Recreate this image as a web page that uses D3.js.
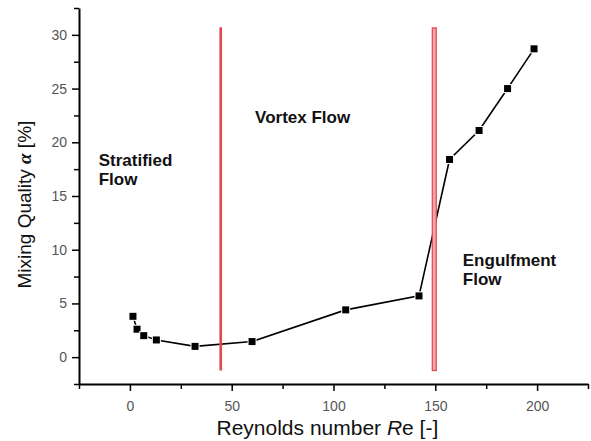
<!DOCTYPE html>
<html>
<head>
<meta charset="utf-8">
<script src="https://cdnjs.cloudflare.com/ajax/libs/d3/7.8.5/d3.min.js"></script>
<style>
  body { margin: 0; background: #fff; }
  svg { display: block; font-family: "Liberation Sans", Arial, sans-serif; }
  .axis path, .axis line { stroke: #000; }
  .axis text { fill: #555; font-size: 14px; }
  .regime { font-weight: bold; font-size: 17px; fill: #111; }
</style>
</head>
<body>
<div id="chart"></div>
<script>
// Reynolds number vs mixing quality
var reValues = [1.5, 3.5, 6.8, 13, 32, 60, 106, 142, 157, 171.5, 185.5, 198.5];
var alphaValues = [3.8, 2.6, 2.0, 1.6, 1.0, 1.45, 4.4, 5.7, 18.4, 21.1, 25.0, 28.7];
// regime borders
var borderRe = [44.6, 149.5];
var xTicks = [0, 50, 100, 150, 200];
var yTicks = [0, 5, 10, 15, 20, 25, 30];
var regimeLabels = [["Stratified", "Flow"], ["Vortex Flow"], ["Engulfment", "Flow"]];

var width = 591, height = 441;
var plotLeft = 79, plotRight = 588, plotTop = 8, plotBottom = 384;

var svg = d3.select("#chart").append("svg")
  .attr("width", width)
  .attr("height", height);

var x = d3.scaleLinear().domain([-25, 225]).range([plotLeft, plotRight]);
var y = d3.scaleLinear().domain([-2.5, 32.5]).range([plotBottom, plotTop]);

// minor ticks first
svg.append("g")
  .attr("class", "axis")
  .attr("transform", "translate(0," + plotBottom + ")")
  .call(d3.axisBottom(x).tickValues([-25, 25, 75, 125, 175, 225]).tickSize(5).tickFormat(""))
  .call(function(g) { g.select(".domain").remove(); g.selectAll("line").attr("stroke-width", 1.5); });

svg.append("g")
  .attr("class", "axis")
  .attr("transform", "translate(" + plotLeft + ",0)")
  .call(d3.axisLeft(y).tickValues([-2.5, 2.5, 7.5, 12.5, 17.5, 22.5, 27.5, 32.5]).tickSize(5).tickFormat(""))
  .call(function(g) { g.select(".domain").remove(); g.selectAll("line").attr("stroke-width", 1.5); });

// major axes
svg.append("g")
  .attr("class", "axis")
  .attr("transform", "translate(0," + plotBottom + ")")
  .call(d3.axisBottom(x).tickValues(xTicks).tickSize(7).tickPadding(10).tickSizeOuter(0))
  .call(function(g) {
    g.select(".domain").attr("stroke-width", 2);
    g.selectAll("line").attr("stroke-width", 1.5);
    g.selectAll("text").attr("font-size", 14).attr("font-family", null);
  });

svg.append("g")
  .attr("class", "axis")
  .attr("transform", "translate(" + plotLeft + ",0)")
  .call(d3.axisLeft(y).tickValues(yTicks).tickSize(7).tickPadding(5).tickSizeOuter(0))
  .call(function(g) {
    g.select(".domain").attr("stroke-width", 2);
    g.selectAll("line").attr("stroke-width", 1.5);
    g.selectAll("text").attr("font-size", 14).attr("font-family", null);
  });

// data line + markers (white halo gives the little gaps near symbols)
var pts = reValues.map(function(d, i) { return [d, alphaValues[i]]; });

svg.append("path")
  .datum(pts)
  .attr("fill", "none")
  .attr("stroke", "#000")
  .attr("stroke-width", 1.6)
  .attr("d", d3.line().x(function(d) { return x(d[0]); }).y(function(d) { return y(d[1]); }));

var ms = 7;
svg.selectAll("rect.pt")
  .data(pts)
  .enter().append("rect")
  .attr("class", "pt")
  .attr("x", function(d) { return x(d[0]) - ms / 2; })
  .attr("y", function(d) { return y(d[1]) - ms / 2; })
  .attr("width", ms)
  .attr("height", ms)
  .attr("fill", "#000")
  .attr("stroke", "#fff")
  .attr("stroke-width", 2)
  .attr("paint-order", "stroke");

// regime borders
svg.append("line")
  .attr("x1", x(borderRe[0])).attr("x2", x(borderRe[0]))
  .attr("y1", y(30.7)).attr("y2", y(-1.25))
  .attr("stroke", "#e8454a")
  .attr("stroke-width", 2.6);

svg.append("rect")
  .attr("x", x(borderRe[1]) - 2)
  .attr("y", y(30.65))
  .attr("width", 4)
  .attr("height", y(-1.25) - y(30.65))
  .attr("fill", "#f4a3a6")
  .attr("stroke", "#e4474c")
  .attr("stroke-width", 1.2);

// regime labels
function label(lines, px, py) {
  var t = svg.append("text").attr("class", "regime").attr("x", px).attr("y", py);
  lines.forEach(function(s, i) {
    t.append("tspan").attr("x", px).attr("dy", i === 0 ? 0 : 19).text(s);
  });
}
label(regimeLabels[0], x(-15.3), y(17.8));
label(regimeLabels[1], x(61.5), y(21.8));
label(regimeLabels[2], x(163.5), y(8.5));

// axis titles
var xt = svg.append("text")
  .attr("x", x(97))
  .attr("y", 435)
  .attr("text-anchor", "middle")
  .attr("font-size", 21)
  .attr("fill", "#111");
xt.append("tspan").text("Reynolds number ");
xt.append("tspan").attr("font-style", "italic").text("R");
xt.append("tspan").text("e [-]");

var yt = svg.append("text")
  .attr("transform", "translate(31," + y(14.2) + ") rotate(-90)")
  .attr("text-anchor", "middle")
  .attr("font-size", 19)
  .attr("fill", "#111");
yt.append("tspan").text("Mixing Quality ");
yt.append("tspan").attr("font-style", "italic").attr("font-weight", "bold")
  .attr("font-family", "'Liberation Serif', serif").text("α");
yt.append("tspan").text(" [%]");
</script>
</body>
</html>
